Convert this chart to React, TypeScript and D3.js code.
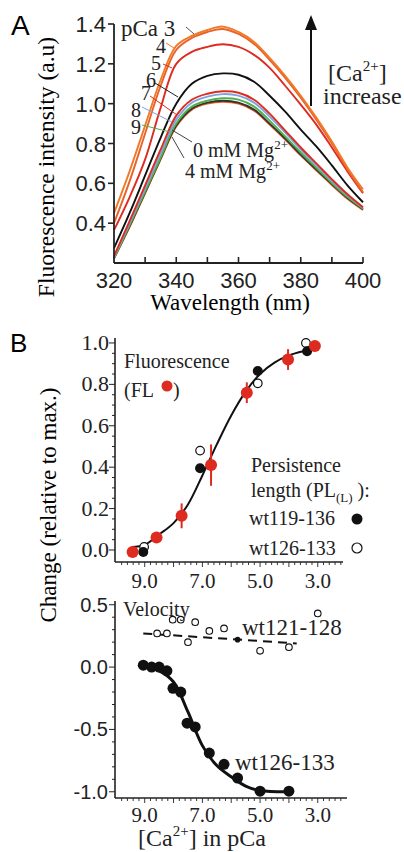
import React from "react";
import * as d3 from "d3";

// ---- Panel A: emission spectra ----
const wavelengths = [320, 325, 330, 335, 340, 345, 350, 355, 360, 365, 370, 375, 380, 385, 390, 395, 400];
const specPCa3 = [0.45, 0.66, 0.89, 1.12, 1.29, 1.34, 1.37, 1.387, 1.36, 1.31, 1.23, 1.14, 1.04, 0.93, 0.81, 0.68, 0.57];
const specPCa4 = [0.4, 0.61, 0.85, 1.09, 1.27, 1.33, 1.36, 1.375, 1.35, 1.3, 1.22, 1.13, 1.03, 0.92, 0.8, 0.67, 0.555];
const specPCa5 = [0.365, 0.53, 0.72, 0.98, 1.2, 1.26, 1.285, 1.298, 1.285, 1.245, 1.18, 1.09, 0.995, 0.895, 0.78, 0.66, 0.55];
const specPCa6 = [0.275, 0.45, 0.64, 0.83, 1.0, 1.1, 1.14, 1.152, 1.145, 1.11, 1.04, 0.96, 0.87, 0.785, 0.69, 0.59, 0.505];
const specPCa7 = [0.235, 0.41, 0.59, 0.77, 0.94, 1.02, 1.05, 1.062, 1.055, 1.02, 0.95, 0.865, 0.78, 0.7, 0.62, 0.545, 0.48];
const specPCa8 = [0.23, 0.4, 0.575, 0.75, 0.92, 1.005, 1.035, 1.048, 1.04, 1.005, 0.935, 0.855, 0.77, 0.69, 0.612, 0.54, 0.477];
const specPCa9 = [0.225, 0.39, 0.56, 0.73, 0.9, 0.985, 1.015, 1.027, 1.02, 0.985, 0.915, 0.835, 0.755, 0.678, 0.602, 0.532, 0.472];
const specMg0 = [0.225, 0.385, 0.555, 0.725, 0.89, 0.975, 1.005, 1.015, 1.005, 0.97, 0.9, 0.825, 0.745, 0.67, 0.597, 0.528, 0.47];
const specMg4 = [0.222, 0.38, 0.55, 0.72, 0.885, 0.97, 1.0, 1.01, 1.0, 0.965, 0.895, 0.82, 0.74, 0.665, 0.592, 0.522, 0.466];
const yTicksA = [0.4, 0.6, 0.8, 1.0, 1.2, 1.4];
const xLabelsA = [320, 340, 360, 380, 400];

// ---- Panel B upper: fluorescence & persistence length ----
const flPCa = [9.42, 8.59, 7.72, 6.7, 5.46, 4.03, 3.1];
const flValue = [-0.01, 0.06, 0.165, 0.41, 0.76, 0.92, 0.985];
const flErr = [0, 0, 0.06, 0.1, 0.05, 0.05, 0];
const pl119PCa = [9.05, 7.08, 5.08, 3.37];
const pl119Value = [-0.01, 0.395, 0.865, 0.96];
const pl126PCa = [9.02, 7.08, 5.08, 3.41];
const pl126Value = [0.015, 0.48, 0.805, 1.0];
const flFitPCa = [9.45, 9.0, 8.5, 8.0, 7.5, 7.0, 6.5, 6.0, 5.5, 5.0, 4.5, 4.0, 3.5, 3.3];
const flFitValue = [0.015, 0.025, 0.075, 0.13, 0.22, 0.36, 0.51, 0.65, 0.765, 0.85, 0.905, 0.94, 0.96, 0.965];
const yTicksB1 = [0.0, 0.2, 0.4, 0.6, 0.8, 1.0];

// ---- Panel B lower: velocity ----
const vel121PCa = [8.57, 8.23, 8.03, 7.75, 7.5, 7.25, 6.76, 6.25, 5.0, 4.0, 3.0];
const vel121Value = [0.27, 0.27, 0.38, 0.38, 0.2, 0.36, 0.29, 0.31, 0.13, 0.16, 0.43];
const vel121DashPCa = [9.05, 3.73];
const vel121DashValue = [0.27, 0.19];
const vel126PCa = [9.05, 8.76, 8.5, 8.23, 8.02, 7.75, 7.53, 7.25, 6.76, 6.25, 5.78, 5.0, 4.0];
const vel126Value = [0.015, 0.0, 0.0, -0.03, -0.17, -0.2, -0.45, -0.48, -0.69, -0.78, -0.89, -0.995, -0.995];
const vel126FitPCa = [9.05, 8.5, 8.0, 7.5, 7.0, 6.5, 6.0, 5.5, 5.0, 4.0];
const vel126FitValue = [0.0, -0.03, -0.12, -0.36, -0.63, -0.79, -0.88, -0.955, -0.99, -1.0];
const yTicksB2 = [0.5, 0.0, -0.5, -1.0];
const xLabelsB = [9, 7, 5, 3];

const SERIF = "'Liberation Serif', 'Times New Roman', serif";
const SANS = "'Liberation Sans', Arial, sans-serif";
const ORANGE = "#f07a28";
const ORANGE2 = "#e8622a";
const RED = "#dd2b20";
const BLUE = "#7da4e0";
const GREEN = "#52b04a";

export default function App() {
  // scales
  const xA = d3.scaleLinear().domain([320, 400]).range([114, 363]);
  const yA = d3.scaleLinear().domain([0.2, 1.4]).range([263, 24]);
  const xB = d3.scaleLinear().domain([10.03, 2.0]).range([115, 346.6]);
  const yB1 = d3.scaleLinear().domain([-0.058, 1.024]).range([562, 338]);
  const yB2 = d3.scaleLinear().domain([-1.05, 0.53]).range([798, 601]);

  const specLine = d3
    .line<number>()
    .x((_, i) => xA(wavelengths[i]))
    .y((d) => yA(d))
    .curve(d3.curveCatmullRom);

  const spectra = [
    { v: specMg4, c: ORANGE2 },
    { v: specMg0, c: "#333" },
    { v: specPCa9, c: GREEN },
    { v: specPCa8, c: BLUE },
    { v: specPCa7, c: RED },
    { v: specPCa6, c: "#111" },
    { v: specPCa5, c: RED },
    { v: specPCa4, c: ORANGE2 },
    { v: specPCa3, c: ORANGE },
  ];

  const fitLine = (xs: number[], ys: number[], ys2: d3.ScaleLinear<number, number>) =>
    d3
      .line<number>()
      .x((d) => xB(d))
      .y((_, i) => ys2(ys[i]))
      .curve(d3.curveCatmullRom)(xs) as string;

  const xMinor = d3.range(2.2, 10.0, 0.2);

  const xAxisB = (y: number, x1: number) => (
    <g>
      <line x1={115} x2={x1} y1={y} y2={y} stroke="#222" strokeWidth={1.6} />
      {xMinor.map((t) => (
        <line key={t} x1={xB(t)} x2={xB(t)} y1={y} y2={y + (Math.abs(t - Math.round(t)) < 0.01 ? 5 : 3)} stroke="#222" strokeWidth={0.9} />
      ))}
    </g>
  );

  return (
    <svg width={404} height={852} style={{ position: "absolute", left: 0, top: 0, background: "#fff" }}>
      {/* ===== Panel A ===== */}
      <text x={11} y={35} fontFamily={SANS} fontSize={28}>A</text>
      <text transform="translate(54,167) rotate(-90)" textAnchor="middle" fontFamily={SERIF} fontSize={23.5}>
        Fluorescence intensity (a.u)
      </text>
      <text x={230} y={310} textAnchor="middle" fontFamily={SERIF} fontSize={23}>Wavelength (nm)</text>

      {spectra.map((s, i) => (
        <path key={i} d={specLine(s.v) as string} fill="none" stroke={s.c} strokeWidth={1.9} />
      ))}

      <line x1={114} x2={114} y1={yA(1.4)} y2={263} stroke="#222" strokeWidth={1.8} />
      <line x1={114} x2={363} y1={263} y2={263} stroke="#222" strokeWidth={1.8} />
      {yTicksA.map((t) => (
        <g key={t}>
          <line x1={108} x2={114} y1={yA(t)} y2={yA(t)} stroke="#222" strokeWidth={1.6} />
          <text x={106} y={yA(t) + 8} textAnchor="end" fontFamily={SANS} fontSize={22} fill="#222">
            {t.toFixed(1)}
          </text>
        </g>
      ))}
      {d3.range(330, 401, 10).map((t) => (
        <line key={t} x1={xA(t)} x2={xA(t)} y1={263} y2={257} stroke="#222" strokeWidth={1.6} />
      ))}
      {xLabelsA.map((t) => (
        <text key={t} x={xA(t)} y={288} textAnchor="middle" fontFamily={SANS} fontSize={22} fill="#222">
          {t}
        </text>
      ))}

      {/* curve labels */}
      <g fontFamily={SERIF} fontSize={20} fill="#222">
        <text x={121} y={36} fontSize={23}>pCa 3</text>
        <text x={156} y={53}>4</text>
        <text x={151} y={70}>5</text>
        <text x={146} y={87}>6</text>
        <text x={141} y={100}>7</text>
        <text x={131} y={117}>8</text>
        <text x={131} y={134}>9</text>
      </g>
      <line x1={186} y1={27} x2={194} y2={34} stroke="#555" strokeWidth={1} />
      <line x1={166} y1={43} x2={174} y2={48} stroke={ORANGE} strokeWidth={1} />
      <line x1={163} y1={64} x2={172} y2={68} stroke={RED} strokeWidth={1} />
      <line x1={155} y1={83} x2={178} y2={97} stroke="#222" strokeWidth={1} />
      <line x1={150} y1={96} x2={177} y2={115} stroke={RED} strokeWidth={1} />
      <line x1={142} y1={107} x2={172} y2={122} stroke={BLUE} strokeWidth={1} />
      <line x1={142} y1={125} x2={170} y2={132} stroke={GREEN} strokeWidth={1} />
      <line x1={172} y1={130} x2={192} y2={142} stroke="#444" strokeWidth={1} />
      <line x1={172} y1={137} x2={184} y2={158} stroke="#444" strokeWidth={1} />
      <g fontFamily={SERIF} fontSize={20} fill="#222">
        <text x={193} y={157}>
          0 mM Mg<tspan fontSize={13} dy={-8}>2+</tspan>
        </text>
        <text x={185} y={178}>
          4 mM Mg<tspan fontSize={13} dy={-8}>2+</tspan>
        </text>
      </g>

      {/* arrow */}
      <line x1={311} x2={311} y1={106} y2={26} stroke="#111" strokeWidth={2} />
      <path d="M305,30 L311,15 L317,30 Z" fill="#111" />
      <g fontFamily={SERIF} fontSize={24} fill="#222">
        <text x={328} y={81}>
          [Ca<tspan fontSize={15} dy={-10}>2+</tspan>
          <tspan dy={10}>]</tspan>
        </text>
        <text x={323} y={104}>increase</text>
      </g>

      {/* ===== Panel B ===== */}
      <text x={10} y={352} fontFamily={SANS} fontSize={26}>B</text>
      <text transform="translate(56,505) rotate(-90)" textAnchor="middle" fontFamily={SERIF} fontSize={23}>
        Change (relative to max.)
      </text>

      {/* upper axes */}
      <line x1={115} x2={115} y1={338} y2={562} stroke="#222" strokeWidth={1.6} />
      {d3.range(0, 1.001, 0.05).map((t) => (
        <line key={t} x1={Math.abs((t * 5) % 1) < 0.01 || Math.abs((t * 5) % 1) > 0.99 ? 109 : 112} x2={115} y1={yB1(t)} y2={yB1(t)} stroke="#222" strokeWidth={1} />
      ))}
      {yTicksB1.map((t) => (
        <text key={t} x={109} y={yB1(t) + 7} textAnchor="end" fontFamily={SERIF} fontSize={22} fill="#222">
          {t.toFixed(1)}
        </text>
      ))}
      {xAxisB(562, 343)}
      {xLabelsB.map((t) => (
        <text key={t} x={xB(t)} y={588} textAnchor="middle" fontFamily={SERIF} fontSize={21} fill="#222">
          {t.toFixed(1)}
        </text>
      ))}

      <path d={fitLine(flFitPCa, flFitValue, yB1)} fill="none" stroke="#111" strokeWidth={2} />
      {flPCa.map((p, i) =>
        flErr[i] > 0 ? (
          <line key={"e" + i} x1={xB(p)} x2={xB(p)} y1={yB1(flValue[i] - flErr[i])} y2={yB1(flValue[i] + flErr[i])} stroke={RED} strokeWidth={2} />
        ) : null
      )}
      {pl126PCa.map((p, i) => (
        <circle key={"o" + i} cx={xB(p)} cy={yB1(pl126Value[i])} r={4.3} fill="#fff" stroke="#111" strokeWidth={1.2} />
      ))}
      {pl119PCa.map((p, i) => (
        <circle key={"b" + i} cx={xB(p)} cy={yB1(pl119Value[i])} r={5} fill="#111" />
      ))}
      {flPCa.map((p, i) => (
        <circle key={"r" + i} cx={xB(p)} cy={yB1(flValue[i])} r={6} fill={RED} />
      ))}

      <g fontFamily={SERIF} fontSize={20} fill="#222">
        <text x={124} y={368}>Fluorescence</text>
        <text x={124} y={397}>(FL</text>
        <text x={173} y={397}>)</text>
        <text x={251} y={472}>Persistence</text>
        <text x={251} y={497}>
          length (PL<tspan fontSize={13} dy={5}>(L)</tspan>
          <tspan dy={-5}> ):</tspan>
        </text>
        <text x={249} y={525}>wt119-136</text>
        <text x={249} y={555}>wt126-133</text>
      </g>
      <circle cx={167} cy={386} r={5.5} fill={RED} />
      <circle cx={357} cy={519} r={5.5} fill="#111" />
      <circle cx={357} cy={548} r={5} fill="#fff" stroke="#111" strokeWidth={1.2} />

      {/* lower axes */}
      <line x1={115} x2={115} y1={601} y2={798} stroke="#222" strokeWidth={1.6} />
      {d3.range(-10, 6, 1).map((k) => (
        <line key={k} x1={k % 5 === 0 ? 109 : 112} x2={115} y1={yB2(k / 10)} y2={yB2(k / 10)} stroke="#222" strokeWidth={1} />
      ))}
      {yTicksB2.map((t) => (
        <text key={t} x={108} y={yB2(t) + 7} textAnchor="end" fontFamily={SANS} fontSize={20} fill="#222">
          {t.toFixed(1)}
        </text>
      ))}
      {xAxisB(798, 347)}
      {xLabelsB.map((t) => (
        <text key={t} x={xB(t)} y={822} textAnchor="middle" fontFamily={SERIF} fontSize={21} fill="#222">
          {t.toFixed(1)}
        </text>
      ))}
      <text x={202} y={846} textAnchor="middle" fontFamily={SERIF} fontSize={24} fill="#222">
        [Ca<tspan fontSize={15} dy={-10}>2+</tspan>
        <tspan dy={10}>] in pCa</tspan>
      </text>

      <path
        d={fitLine(vel121DashPCa, vel121DashValue, yB2)}
        fill="none"
        stroke="#111"
        strokeWidth={2}
        strokeDasharray="9,6"
      />
      {vel121PCa.map((p, i) => (
        <circle key={"v" + i} cx={xB(p)} cy={yB2(vel121Value[i])} r={3.3} fill="#fff" stroke="#111" strokeWidth={1.1} />
      ))}
      <circle cx={xB(5.78)} cy={yB2(0.22)} r={2.8} fill="#111" />
      <path d={fitLine(vel126FitPCa, vel126FitValue, yB2)} fill="none" stroke="#111" strokeWidth={3} />
      {vel126PCa.map((p, i) => (
        <circle key={"w" + i} cx={xB(p)} cy={yB2(vel126Value[i])} r={5.5} fill="#111" />
      ))}
      <g fontFamily={SERIF} fill="#222">
        <text x={123} y={616} fontSize={20}>Velocity</text>
        <text x={242} y={635} fontSize={23}>wt121-128</text>
        <text x={235} y={770} fontSize={23}>wt126-133</text>
      </g>
    </svg>
  );
}
